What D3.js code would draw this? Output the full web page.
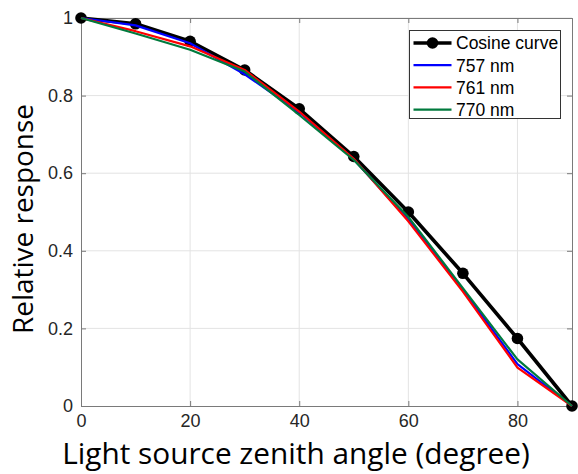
<!DOCTYPE html>
<html>
<head>
<meta charset="utf-8">
<script src="https://cdn.jsdelivr.net/npm/d3@7"></script>
<style>
  html, body { margin: 0; padding: 0; background: #fff; }
  svg { display: block; }
</style>
</head>
<body>
<svg id="chart" width="578" height="474"></svg>
<script>
// Zenith angles (degrees)
const angles = [0, 10, 20, 30, 40, 50, 60, 70, 80, 90];

// Relative response for each series
const cosineCurve = [1.000, 0.985, 0.940, 0.866, 0.766, 0.643, 0.500, 0.342, 0.174, 0.000];
const nm757 = [1.000, 0.981, 0.935, 0.855, 0.757, 0.636, 0.480, 0.300, 0.108, 0.000];
const nm761 = [1.000, 0.966, 0.927, 0.866, 0.759, 0.637, 0.476, 0.295, 0.099, 0.000];
const nm770 = [1.000, 0.960, 0.918, 0.862, 0.750, 0.634, 0.487, 0.304, 0.120, 0.000];

const seriesNames = ["Cosine curve", "757 nm", "761 nm", "770 nm"];

const xTicks = [0, 20, 40, 60, 80];
const yTicks = [0, 0.2, 0.4, 0.6, 0.8, 1];
const yTickLabels = ["0", "0.2", "0.4", "0.6", "0.8", "1"];

const xLabel = "Light source zenith angle (degree)";
const yLabel = "Relative response";

const svg = d3.select("#chart");
const margin = { left: 81, top: 18, right: 6, bottom: 68 };
const W = 578, H = 474;
const iw = W - margin.left - margin.right;
const ih = H - margin.top - margin.bottom;

const x = d3.scaleLinear().domain([0, 90]).range([0, iw]);
const y = d3.scaleLinear().domain([0, 1]).range([ih, 0]);

const g = svg.append("g").attr("transform", `translate(${margin.left},${margin.top})`);

// grid
g.append("g").selectAll("line.gx").data(xTicks.slice(1)).join("line")
  .attr("x1", d => x(d)).attr("x2", d => x(d)).attr("y1", 0).attr("y2", ih)
  .attr("stroke", "#e3e3e3").attr("stroke-width", 1);
g.append("g").selectAll("line.gy").data(yTicks.slice(1)).join("line")
  .attr("x1", 0).attr("x2", iw).attr("y1", d => y(d)).attr("y2", d => y(d))
  .attr("stroke", "#e3e3e3").attr("stroke-width", 1);

// axes (ticks point inward)
const tickFont = "'Liberation Sans', Arial, sans-serif";
const xAxis = g.append("g").attr("transform", `translate(0,${ih})`)
  .call(d3.axisBottom(x).tickValues(xTicks).tickSize(-5).tickPadding(8).tickFormat(d3.format("d")));
const yAxis = g.append("g")
  .call(d3.axisLeft(y).tickValues(yTicks).tickSize(-5).tickPadding(8)
    .tickFormat((d, i) => yTickLabels[i]));
const xTop = g.append("g")
  .call(d3.axisTop(x).tickValues(xTicks).tickSize(-5).tickFormat(""));
const yRight = g.append("g").attr("transform", `translate(${iw},0)`)
  .call(d3.axisRight(y).tickValues(yTicks).tickSize(-5).tickFormat(""));

[xAxis, yAxis, xTop, yRight].forEach(a => {
  a.select(".domain").attr("stroke", "#7a7a7a").attr("stroke-width", 1);
  a.selectAll(".tick line").attr("stroke", "#7a7a7a");
  a.selectAll(".tick text").attr("fill", "#262626")
    .style("font-family", tickFont).style("font-size", "18px");
});

// series lines
const line = d3.line().x((d, i) => x(angles[i])).y(d => y(d));

g.append("path").datum(cosineCurve).attr("d", line)
  .attr("fill", "none").attr("stroke", "#000").attr("stroke-width", 3.6)
  .attr("stroke-linejoin", "round");
g.selectAll("circle.cos").data(cosineCurve).join("circle")
  .attr("cx", (d, i) => x(angles[i])).attr("cy", d => y(d)).attr("r", 5.8)
  .attr("fill", "#000");

const colored = [
  { vals: nm757, color: "#0000ff" },
  { vals: nm761, color: "#ff0000" },
  { vals: nm770, color: "#007a3d" }
];
colored.forEach(s => {
  g.append("path").datum(s.vals).attr("d", line)
    .attr("fill", "none").attr("stroke", s.color).attr("stroke-width", 2.2)
    .attr("stroke-linejoin", "round");
});

// legend
const lg = svg.append("g").attr("transform", "translate(409.5,30.5)");
lg.append("rect").attr("width", 151).attr("height", 88)
  .attr("fill", "#fff").attr("stroke", "#333").attr("stroke-width", 1);
const legendItems = [
  { name: seriesNames[0], color: "#000", w: 3.6, marker: true },
  { name: seriesNames[1], color: "#0000ff", w: 2.2 },
  { name: seriesNames[2], color: "#ff0000", w: 2.2 },
  { name: seriesNames[3], color: "#007a3d", w: 2.2 }
];
legendItems.forEach((it, i) => {
  const yy = 12.5 + i * 22.2;
  lg.append("line").attr("x1", 4).attr("x2", 42).attr("y1", yy).attr("y2", yy)
    .attr("stroke", it.color).attr("stroke-width", it.w);
  if (it.marker) lg.append("circle").attr("cx", 23).attr("cy", yy).attr("r", 5.8).attr("fill", "#000");
  lg.append("text").attr("x", 46.5).attr("y", yy).attr("dy", "0.36em")
    .attr("fill", "#000").style("font-family", tickFont).style("font-size", "17.5px")
    .text(it.name);
});

// axis titles, sized to their span
const titleFont = "'Open Sans', 'Noto Sans', sans-serif";
function fitText(sel, target) {
  const len = sel.node().getComputedTextLength();
  const fs = parseFloat(sel.style("font-size"));
  sel.style("font-size", (fs * target / len) + "px");
}
const xt = svg.append("text").attr("x", 296).attr("y", 464)
  .attr("text-anchor", "middle").attr("fill", "#000")
  .style("font-family", titleFont).style("font-size", "26px").text(xLabel);
fitText(xt, 468);
const yt = svg.append("text").attr("transform", "translate(33,219) rotate(-90)")
  .attr("text-anchor", "middle").attr("fill", "#000")
  .style("font-family", titleFont).style("font-size", "26px").text(yLabel);
fitText(yt, 230);
</script>
</body>
</html>
